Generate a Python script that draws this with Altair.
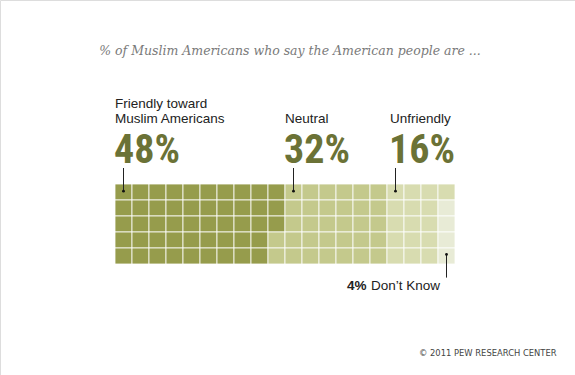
import altair as alt
import pandas as pd

categories = ["Friendly", "Neutral", "Unfriendly", "Don't Know"]
values = [48, 32, 16, 4]
colors = ["#969c4c", "#c4c98c", "#d8dcb0", "#e8ebd6"]
n_cols = 20
n_rows = 5

# build waffle cells, filled column by column, top to bottom
cells = []
idx = 0
for cat, v in zip(categories, values):
    for _ in range(v):
        c, r = divmod(idx, n_rows)
        cells.append({"cat": cat, "col": c, "row": r})
        idx += 1
cells_df = pd.DataFrame(cells)

xscale = alt.Scale(domain=[0, n_cols], range=[115, 455], nice=False, zero=False)
yscale = alt.Scale(domain=[0, n_rows], range=[184, 264], nice=False, zero=False)

W, H = 575, 375

waffle = alt.Chart(cells_df).transform_calculate(
    col2="datum.col + 1", row2="datum.row + 1"
).mark_rect(stroke="#ffffff", strokeWidth=1, strokeOpacity=0.8).encode(
    x=alt.X("col:Q", scale=xscale, axis=None),
    x2="col2:Q",
    y=alt.Y("row:Q", scale=yscale, axis=None),
    y2="row2:Q",
    color=alt.Color("cat:N", scale=alt.Scale(domain=categories, range=colors), legend=None),
)

# leader markers: cells pointed at
marker_df = pd.DataFrame({
    "cat": categories,
    "col": [0.5, 10.5, 16.5, 19.5],
    "row": [0.45, 0.45, 0.45, 4.4],
    "lab_row_end": [-1.0, -1.0, -1.0, 5.85],
})

leaders = alt.Chart(marker_df).mark_rule(color="#222222", strokeWidth=1).encode(
    x=alt.X("col:Q", scale=xscale, axis=None),
    y=alt.Y("row:Q", scale=yscale, axis=None),
    y2="lab_row_end:Q",
)
dots = alt.Chart(marker_df).mark_point(filled=True, color="#111111", size=8, opacity=1).encode(
    x=alt.X("col:Q", scale=xscale, axis=None),
    y=alt.Y("row:Q", scale=yscale, axis=None),
)

label_font = "Liberation Sans"
big_font = "Roboto Condensed, DejaVu Sans Condensed, Liberation Sans"
text_color = "#222222"
num_color = "#6b7236"

def txt(s, x, y, **kw):
    return alt.Chart(pd.DataFrame({"t": [s]})).mark_text(align="left", baseline="alphabetic", **kw).encode(
        text="t:N", x=alt.value(x), y=alt.value(y)
    )

title = alt.Chart(pd.DataFrame({"t": ["% of Muslim Americans who say the American people are ..."]})).mark_text(
    align="center", baseline="alphabetic", font="DejaVu Serif", fontStyle="italic", fontSize=12.5, color="#7a7a7a"
).encode(text="t:N", x=alt.value(290), y=alt.value(55))

labels = [
    txt("Friendly toward", 115, 108, font=label_font, fontSize=13.5, color=text_color),
    txt("Muslim Americans", 115, 123, font=label_font, fontSize=13.5, color=text_color),
    txt("Neutral", 285, 123, font=label_font, fontSize=13.5, color=text_color),
    txt("Unfriendly", 390, 123, font=label_font, fontSize=13.5, color=text_color),
    txt(f"{values[0]}%", 114, 163, font=big_font, fontSize=40, fontWeight="bold", color=num_color),
    txt(f"{values[1]}%", 284, 163, font=big_font, fontSize=40, fontWeight="bold", color=num_color),
    txt(f"{values[2]}%", 389, 163, font=big_font, fontSize=40, fontWeight="bold", color=num_color),
    txt(f"{values[3]}%", 347, 290, font=label_font, fontSize=13.5, fontWeight="bold", color=text_color),
    txt("Don\u2019t Know", 371, 290, font=label_font, fontSize=13.5, color=text_color),
    txt("\u00a9 2011 PEW RESEARCH CENTER", 419, 356, font="DejaVu Sans", fontSize=8.4, color="#444444"),
]

chart = alt.layer(waffle, leaders, dots, title, *labels).properties(
    width=W, height=H, padding=0, autosize=alt.AutoSizeParams(type="none")
).configure_view(stroke=None).configure(background="white")

chart.save("out.html", embed_options={"renderer": "svg", "actions": False})
